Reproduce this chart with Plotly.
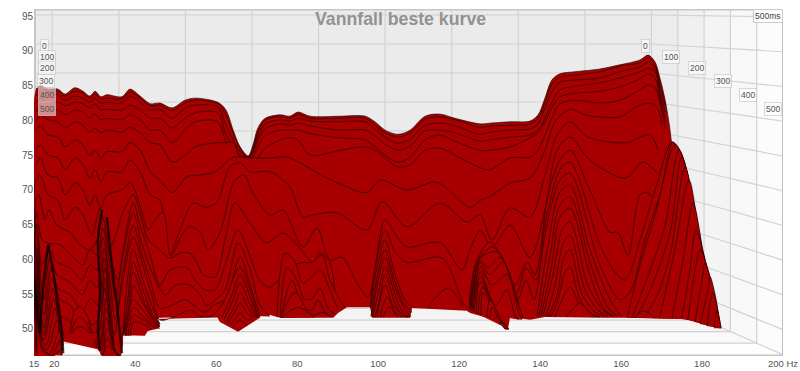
import plotly.graph_objects as go

N = None
TITLE = "Vannfall beste kurve"
Y_TICKS = [50, 55, 60, 65, 70, 75, 80, 85, 90, 95]
X_TICKS = [15, 20, 40, 60, 80, 100, 120, 140, 160, 180, 200]
X_TICK_TEXT = ["15", "20", "40", "60", "80", "100", "120", "140", "160", "180", "200 Hz"]
TIME_LABELS = ["0", "100", "200", "300", "400", "500"]

BASE_HZ = [15, 15, 20.2, 20.2, 26.4, 28.8, 29.6, 29.6, 30.3, 31.8, 36.5, 37, 37, 42.4, 43.2, 46.1, 44.9, 47.4, 51.8, 56, 60.2, 60.9, 65.4, 70.8, 70.8, 73.3, 75.8, 88.9, 90.1, 92.3, 98, 98.5, 107.9, 108.4, 121.9, 122.7, 126.9, 130.1, 132.1, 132.6, 137.5, 141.2, 156, 174.6, 178.3, 184.4, 181.2]
BASE_DB = [53.4, 46.1, 46.1, 49.1, 49.4, 49.3, 49.4, 48, 47.5, 46.1, 46.1, 47.7, 49.1, 49, 49.8, 50.3, 51.6, 51.7, 52, 52.1, 51.8, 51, 49.6, 51.6, 52, 52, 51.6, 51.6, 52.3, 53.1, 53.1, 51.6, 51.6, 53, 52.6, 52.3, 51.6, 50.8, 50.1, 51.7, 51.3, 51.7, 51.6, 51.6, 51, 50.1, 53.4]

TOP_HZ = [15.5, 16.5, 18.5, 20.9, 22.7, 25.1, 27.1, 28.8, 30.1, 31.5, 33, 36.7, 38.7, 41.2, 43.7, 46.1, 49.1, 52.3, 54.8, 60.4, 62.4, 64.2, 65.9, 67.9, 69.1, 70.3, 72.1, 75.8, 78.2, 80.2, 83.2, 90.6, 96.8, 99.2, 101.7, 104.9, 107.9, 111.6, 115.3, 119, 125.2, 127.6, 132.6, 137.5, 139.5, 141.2, 142.9, 144.9, 148.6, 154.8, 159.7, 164.7, 166.7, 168.4, 169.6, 170.9, 172.1, 173.4]
S00_DB = [84.5, 85, 84.5, 84.5, 83.8, 84.7, 84.2, 83.5, 84.2, 83.4, 83.7, 83.4, 84.5, 83.5, 82.4, 82.5, 81.8, 82.9, 83.2, 82.6, 81.5, 78.6, 76.2, 74.9, 76.5, 78.9, 80.3, 80.8, 80.6, 81.2, 80.6, 80.6, 80.6, 79.8, 78.6, 78, 78.6, 80.6, 80.9, 80.3, 79.5, 79.6, 79.8, 79.9, 80.8, 83.2, 85.8, 86.7, 87, 87.4, 88, 88.7, 89.4, 88.4, 86.1, 82.9, 78.6, 71.4]
S01_DB = [84.1, 84.7, 84.2, 84.2, 83.5, 84.2, 83.9, 83.2, 83.8, 83.1, 83.2, 83.1, 84.1, 83.2, 82.1, 82.2, 81.4, 82.5, 82.9, 82.4, 80.8, 78.2, 76, 74.7, 76, 78.3, 80.1, 80.5, 80.3, 80.9, 80.3, 80.3, 80.3, 79.3, 78.2, 77.6, 78.2, 80.2, 80.5, 80.1, 79, 79.2, 79.3, 79.5, 80.3, 82.6, 85.2, 86.2, 86.5, 87, 87.8, 88.3, 89, 88, 85.4, 82.2, 77.9, 70.7]
S02_DB = [83.5, 84.1, 83.7, 83.7, 82.9, 83.5, 83.2, 82.6, 83.2, 82.5, 82.6, 82.5, 83.5, 82.6, 81.5, 81.6, 80.3, 81.8, 82.2, 81.9, 79.3, 77.2, 75.5, 74.6, 75.7, 77.8, 79.5, 80.1, 79.9, 80.3, 79.9, 79.8, 79.8, 78.8, 77.6, 76.7, 77.3, 79.3, 79.6, 79.2, 78, 78.3, 78.6, 78.8, 79.5, 81.8, 84.1, 85.5, 85.8, 86.1, 87, 87.7, 88.4, 87.5, 84.4, 81.2, 77.2, 70]
S03_DB = [82.5, 83.2, 82.6, 82.6, 82.1, 82.6, 82.4, 81.8, 82.4, 81.5, 81.6, 81.5, 82.2, 81.5, 80.3, 80.3, 78.9, 80.3, 81.1, 81.1, 77.9, 76.3, 75, 74.4, 75.3, 77.2, 78.8, 79.5, 79.3, 79.6, 79.2, 78.6, 78.6, 77.8, 76.6, 75.7, 76.3, 78.5, 78.6, 78.2, 77, 77.2, 77.6, 77.9, 78.6, 80.3, 82.6, 84.4, 84.9, 85.4, 86.1, 87, 87.5, 87, 83.7, 80.3, 76.5, 69.3]
S04_DB = [81.2, 82.1, 81.5, 81.5, 80.8, 81.5, 81.2, 80.3, 80.9, 80.1, 80.3, 80.1, 80.8, 80.1, 78.6, 78.6, 76.8, 78.6, 79.8, 79.8, 76.9, 75.5, 74.3, 74.2, 74.7, 76.3, 77.8, 78.6, 78.6, 78.6, 78.1, 77.5, 77.2, 76.2, 75, 74, 74.7, 77.2, 77.9, 77, 75.7, 75.7, 76.2, 77.5, 78.3, 79.8, 81.8, 83.4, 83.9, 84.2, 84.8, 86, 86.7, 86.1, 82.9, 79.8, 75.7, 68.6]
S05_DB = [79.8, 80.8, 80.1, 79.8, 78.9, 79.8, 79.3, 78.3, 78.9, 78.2, 78.6, 78.3, 79, 78.2, 76.8, 76.5, 74, 75, 76.2, 76.8, 76.8, 76.8, 74.7, 73.9, 74, 74.6, 76, 77.2, 77.5, 77.2, 75, 75.7, 76.2, 75.7, 74.6, 73.3, 73.6, 75.7, 76, 75, 73.2, 72.9, 74.6, 74.7, 75.7, 77.9, 80.3, 82.4, 82.9, 82.5, 82.9, 84.4, 85.1, 84.7, 82.6, 78.9, 75, 67.8]

S06_HZ = [15.5, 16.5, 18.5, 20.9, 22.7, 25.1, 27.1, 28.8, 30.1, 31.5, 33, 36.7, 38.7, 41.2, 43.7, 46.1, 49.1, 52.8, 55.3, 59.7, 64.2, 68.4, 73.3, 77.5, 87.4, 91.3, 97.2, 100.5, 107.1, 114.5, 122.7, 125.2, 127.6, 132.6, 137.5, 141.2, 143.7, 147.4, 151.1, 154.8, 159.7, 163.4, 166.7, 168.9, 170.1, 171.3, 172.6]
S06_DB = [78.6, 79.3, 77.9, 77.6, 76.2, 77.2, 76.5, 75, 75.7, 74.6, 75.5, 75.5, 76.8, 75.7, 72.6, 71.4, 69.6, 71.9, 72.1, 72.6, 74.7, 74.6, 74.6, 74.7, 71.7, 70.7, 69.6, 71.4, 70, 71.1, 67.5, 68.5, 69, 71, 71.7, 75.7, 79.8, 81.6, 80.8, 80.5, 80.5, 81.8, 82.5, 81.9, 79.3, 75, 68.5]
S07_HZ = [15.5, 16.5, 18.5, 20.9, 22.7, 25.1, 27.1, 28.8, 30.1, 31.5, 33, 36.7, 38.7, 41.2, 43.7, 46.1, 48.6, 51, 54.3, 57.7, 60.2, 63.4, 65.9, 68.4, 73.3, 78.2, 81.4, 83.9, 89.8, 97.2, 101, 107.1, 115.3, 121.9, 125.2, 128.1, 132.6, 137.5, 141.2, 144.2, 147.4, 151.8, 161.5, 164.7, 167.2, 169.1, 170.6, 172.1]
S07_DB = [75.7, 76.5, 75, 74.6, 72.9, 74.6, 73.6, 71.7, 72.9, 71.1, 72.6, 72.6, 74.3, 72.6, 69.3, 68.5, 60.6, 64.2, 68.1, 67.5, 68.3, 73.3, 73.9, 72.6, 72.6, 70.4, 66.1, 66.4, 66.7, 64.2, 68.3, 64.7, 68.1, 65.4, 66.4, 62.8, 67.4, 66.1, 72.1, 77.9, 79.8, 77.6, 76.8, 77.6, 77.9, 75.7, 72.1, 66.4]
S08_HZ = [15.5, 16.5, 18.5, 20.9, 22.7, 25.1, 27.1, 28.8, 30.1, 31.5, 33, 36.7, 38.7, 41.2, 43.2, 44.9, 46.9, 48.8, 51.8, 53.5, 56, 58, 60.9, 64.6, 67.1, 68.4, 73.3, 76.5, 81.4, 84.9, 88.1, 91.1, 94.8, 97.5, 101.7, 104.7, 107.1, 115.3, 120.7, 122.7, 125.2, 128.1, 132.6, 137.5, 141.2, 144.2, 147.4, 152.3, 161, 165.4, 168.9, 170.1, 171.6]
S08_DB = [73.6, 74.6, 72.1, 71.7, 69.3, 71, 70, 67.8, 69.3, 67.4, 69.3, 70, 71.1, 67.8, 64.2, 65.7, 66.8, 60.5, 63.8, 64.7, 63.9, 61.4, 63.8, 71.4, 72.1, 70.3, 66.4, 67.1, 61.8, 64.5, 59.9, 60.3, 56.6, 54.6, 65.7, 63.2, 61.8, 62.4, 58.5, 61.4, 64.2, 61.8, 64.9, 60.3, 67.1, 75.7, 77.6, 74.3, 71.7, 74, 72.4, 70.7, 64.9]

S09_HZ = [15, 15.5, 16.5, 18.5, 20.9, 22.7, 25.1, 27.1, 29.3, 31.3, 33.3, 35, 36.7, 39.5, 41.2, 43.2, 45.6, 48.6, 51, 53.5, 55.3, 56.7, 59.7, 62.2, 64.6, 68.4, 72.5, 76.5, 80.7, 83.9, 85.6, 88.1, 90.1, 91.8, N, 98, 99.5, 101.7, 104.2, 107.1, 115.8, 121, 122.2, N, 122.4, 124.2, 127.6, 131.3, 133.8, 136.8, 138.7, 142, 144.9, 147.4, 152.3, 157.3, 159.2, 161.7, 164.7, 166.4, 168.4, 170.9, 172.6, 174]
S09_DB = [53.4, 71.4, 72.1, 69.3, 68.5, 65.7, 67.5, 66.4, 63.5, 67.4, 61.4, 63.1, 66.4, 69.3, 66.7, 62.8, 61.6, 60.2, 60.9, 60.9, 59.5, 57.8, 57.5, 62.8, 68.1, 65.2, 62.4, 63.8, 61.6, 59.6, 61, 59.5, 53.7, 53.1, N, 53.1, 59.6, 64.2, 61.1, 59.6, 60.2, 53.7, 53, N, 53.4, 59.6, 62.5, 59.6, 56.3, 59.6, 57.8, 69.3, 74.3, 75.7, 70, 63.9, 63.9, 60.6, 69.3, 69.6, 68.5, 64.2, 57.8, 53.4]
S10_HZ = [15.2, 15.5, 16.2, 17.7, 18.7, 20.7, 23.9, 26.4, 28.8, 30.6, 32, 33.8, 35.7, 37, 39.5, 41.2, 43.7, 46.1, 48.6, 52.8, 54.8, 57.2, 59.7, 62.2, 65.4, 70.8, 73.3, 77.5, 80.7, 83.7, 86.1, 88.1, 90.6, 91.8, N, 98.2, 99.7, 101.7, 104.2, 106.6, 108.4, N, 112.3, 117.3, 121, N, 122.7, 124.4, 128.4, 131.3, 134.3, 136.5, 139, 141.2, 144.9, 147.4, 154.8, 158.5, 161, 164.7, 168.4, 172.6, 174.6, 177, 178.8, 180.2, 181.2]
S10_DB = [54.2, 68.5, 69.3, 65.7, 67.1, 64.9, 63.9, 62.1, 61.4, 62.8, 66, 60.6, 57, 61.4, 68.1, 64.9, 60.6, 56.3, 58.5, 58.8, 57, 55.6, 55.6, 59.2, 64.2, 57, 56, 58.5, 59.5, 59.6, 60.6, 57, 54.2, 53.1, N, 53.1, 58.8, 62.8, 57.8, 54.2, 53.1, N, 53.1, 55.9, 53.1, N, 53, 59.6, 61.8, 58.8, 55.2, 58.8, 57, 64.9, 72.9, 74, 62.1, 58.2, 57, 62.8, 70, 76.9, 75.7, 70.7, 62.8, 57, 51.8]
S11_HZ = [15.2, 15.7, 17, 18.7, 21.4, 24.6, 27.1, 28.8, 30.6, 32, 33.8, 35.2, 36.7, 39.5, 41.4, 43.7, 47.4, 49.8, 53.5, 56, 57.7, 59.7, 62.2, 65.4, 68.4, 70.8, 73.3, N, 75, 77, 79.5, 81.4, 83.2, 85.6, 88.1, 90.1, N, 98.2, 99.9, 101.7, 104.2, 106.6, 108.4, N, 122.7, 124.2, 125.2, 129.4, 132.1, 134.5, 136.5, 138.5, 141.2, 144.9, 147.4, 154.8, 159.7, 162.2, 165.9, 169.6, 172.8, 174.6, 176.5, 178.3, 180, 181]
S11_DB = [52.7, 66.8, 62.8, 62.3, 62.1, 60.3, 59.2, 61.4, 60.6, 64.5, 59.2, 54.2, 59.6, 66.7, 62.8, 58.8, 54.9, 56.3, 56.3, 54.9, 53.4, 54.2, 55.6, 62.3, 58.5, 53.4, 51.8, N, 51.7, 60.9, 59.6, 56.6, 57.3, 58.5, 55.6, 52.7, N, 51.8, 57.8, 61.4, 56.7, 53.4, 52.4, N, 52.8, 58.5, 60.2, 61.1, 58.2, 54.2, 57, 54.2, 63.5, 71.4, 72.4, 59.2, 54.2, 55.3, 62.8, 69.3, 76.9, 75, 70.7, 64.9, 59.9, 51.6]
S12_HZ = [15.2, 15.7, 17, 18.7, 20.7, 23.9, 26.9, 28.8, 30.6, 32, 33.8, 35, 37, 39.5, 41.7, 43.7, 46.1, 49.1, 52.3, 55.3, 57.2, 59.2, 62.2, 65.9, 68.4, 70.8, N, 75.8, 77.5, 79.9, 81.9, 83.7, 85.6, 87.6, 89.3, N, 98.5, 99.9, 101.7, 104.2, 106.4, 108.1, N, 122.7, 125.2, 127.1, 130.1, 133.8, 135, N, 139.2, 142, 144.9, 147.4, 152.3, 157.3, 160, N, 161.5, 164.7, 168.4, 173.4, 175.8, 177.5, 179.5, 181.2, 181.7]
S12_DB = [51.6, 65.1, 59.2, 61.4, 59.6, 58.8, 57, 59.2, 58.5, 63.1, 57, 51.3, 58.2, 64.9, 60.6, 57, 53, 53.4, 54.2, 53, 52.4, 53.4, 54.2, 60.3, 56.3, 51.7, N, 51.7, 58.8, 57, 54.2, 54.4, 55.9, 53, 52.1, N, 51.8, 56.7, 60.2, 55.9, 53, 51.8, N, 52.8, 59.8, 58.8, 60.3, 55.6, 52.4, N, 51.8, 62.1, 69.7, 70.7, 61.4, 54.2, 51.8, N, 51.6, 59.2, 66.4, 76.5, 73.6, 69.3, 63.5, 55.6, 51.3]
S13_HZ = [15.2, 16, 16.7, 17.5, 18.9, 20.7, 23.9, 26.9, 28.8, 30.6, 32.3, 33.8, 34.8, 36.8, 39.5, 41.9, 44.1, 46.1, 49.8, 53.5, 56, 58.5, 61.4, 65.9, 68.4, 70.3, N, 76, 78.7, 81.4, 83.7, 85.1, 86.9, 88.9, N, 98.7, 100.2, 101.7, 104.2, 106.1, 107.9, N, 122.9, 125.2, 127.6, 130.8, 133.8, 135.8, N, 139.7, 142.5, 144.9, 147.4, 152.3, 156.8, 159.2, N, 162.7, 167.2, 170.9, 174.3, 177, 179.5, 181.5, 182.5]
S13_DB = [51, 63.4, 57, 54.2, 60.2, 57.8, 56.7, 54.9, 57, 55.9, 61.6, 54.9, 49.1, 56.3, 63.2, 59.2, 54.9, 51.3, 51.8, 52.7, 51.8, 51.8, 53.4, 58.9, 55.6, 51.8, N, 51.6, 57, 53.1, 52.7, 54.2, 52.4, 51.8, N, 51.7, 55.6, 58.9, 54.9, 52.4, 51.7, N, 52.7, 59.5, 57.8, 59.6, 54.9, 51.6, N, 51.8, 60.6, 67.8, 69, 59.6, 53, 51.8, N, 51.6, 58.5, 64.9, 75.7, 71, 62.1, 56.3, 51.6]
S14_HZ = [15.5, 16, 16.7, 17.5, 19.2, 20.9, 23.9, 26.9, 29.1, 30.8, 32.3, 33.8, 34.8, N, 37, 37.7, 39.5, 41.9, 44.1, 46.1, N, 61.4, 63.9, 65.9, 68.4, 70.3, N, 76, 79.5, 83.2, 84.7, 86.1, 88.1, N, 99.2, 100.5, 101.7, 103.9, 105.9, 107.4, N, 123.2, 125.2, 128.1, 131.8, 134.5, 135.5, N, 140.2, 142.9, 144.9, 147.4, 152.3, 156, 158.5, N, 163.7, 167.2, 172.1, 175, 177.5, 180, 182.5, 183]
S14_DB = [50.6, 61.6, 54.2, 52, 58.8, 55.9, 54.9, 52.7, 54.4, 53.4, 60.2, 52.7, 47.7, N, 49.1, 54.9, 61.4, 57, 53.4, 50.7, N, 51.6, 54.9, 57.8, 54.6, 51.7, N, 51.6, 55.3, 52, 52.1, 52.4, 51.8, N, 51.7, 54.6, 57.8, 54.2, 52, 51.7, N, 52.6, 58.9, 56.3, 57.8, 52.7, 51.3, N, 51.8, 59.2, 66, 67.4, 57.8, 52.7, 51.8, N, 51.6, 55.6, 63.9, 74.7, 69.3, 61.4, 54.2, 51.3]
S15_HZ = [15.5, 16, 16.7, 17.5, 19.4, 21.4, 23.9, 25.9, 27.1, 28.3, 29.3, 30.8, 32.5, 34, 34.8, N, 37, 38, 39.5, 41.9, 44.4, 46.1, N, 61.9, 64.2, 65.9, 68.1, 70.1, N, 76.3, 80.2, 84.4, N, 99.7, 101.7, 103.7, 106.6, N, 123.4, 125.2, 128.9, 131.8, 133.8, 134.8, N, 140.7, 143.2, 145.4, 147.4, 151.8, 155.5, 157.8, N, 165.4, 168.4, 172.1, 175.8, 178.3, 180.7, 183.2]
S15_DB = [49.8, 60.2, 52, 50.1, 57.3, 54.2, 53.4, 51.6, 52.7, 51.6, 50.6, 51.3, 58.8, 50.6, 47, N, 49.1, 53.4, 59.6, 55.6, 52, 50.6, N, 51.3, 54.2, 56.6, 53.9, 51.6, N, 51.6, 53.1, 51.6, N, 51.7, 56.3, 53.4, 51.7, N, 52.6, 58.2, 53.4, 55.6, 52, 51.3, N, 51.8, 57.8, 64.2, 65.4, 56.3, 52.7, 51.8, N, 51.6, 54.2, 60.6, 73.3, 66.4, 59.2, 51.3]
S16_HZ = [15.5, 16, 16.7, 17.5, 19.7, 21.4, 23.4, 25.4, 27.1, 28.3, 29.3, 31, 32.5, 34, 35, N, 37, 38.2, 39.5, 41.9, 44.6, 46.1, N, 62.4, 64.4, 65.9, 67.9, 69.8, N, 100.5, 102.2, 104.2, 105.9, N, 123.7, 125.2, 129.6, 131.6, N, 141.5, 143.7, 145.7, 147.4, 151.1, 154.3, 156.8, N, 169.6, 173.3, 176.8, 179.5, 182.5, 183.7]
S16_DB = [49.1, 58.8, 50.6, 49.1, 55.9, 52, 51.3, 50.1, 50.6, 49.8, 49.4, 49.8, 57.3, 49.1, 46.5, N, 49.1, 52.4, 58.2, 54.4, 51.3, 50.4, N, 51, 53.1, 55.2, 53, 51.6, N, 51.7, 54.6, 52.4, 51.7, N, 52.4, 57.5, 51.7, 50.6, N, 51.8, 56.3, 62.3, 63.5, 55.6, 52.7, 51.8, N, 51.8, 61.4, 71.4, 62.8, 55.6, 51]
S17_HZ = [15.5, 16, 16.7, 17.5, 19.9, 21.4, 22.4, N, 23.9, 25.1, 26.4, 28.1, 29.3, N, 29.6, 31, 32.5, 33.9, 35, N, 36.8, 38.5, 39.5, 41.9, 44.9, 46.1, N, 62.9, 64.6, 65.9, 67.6, 69.3, N, 101.2, 102.7, 104.7, N, 124.2, 125.2, 130.1, 131.8, N, 142, 144.2, 145.9, 147.4, 150.4, 153.6, 155.8, N, 172.6, 175.3, 177.8, 180.2, 182.5, 183.9]
S17_DB = [48.1, 57.5, 49.4, 48.4, 54.4, 51, 49.1, N, 49.4, 52.7, 53.2, 52, 49.4, N, 48, 49.1, 55.9, 48.4, 46.4, N, 49, 51.6, 56.3, 53.7, 51, 50.3, N, 50.8, 52.4, 53.7, 52.3, 51.6, N, 51.7, 53.1, 51.7, N, 52.3, 56.8, 51.3, 50.3, N, 51.8, 54.9, 60.3, 61.4, 54.9, 52.4, 51.8, N, 51.6, 59.9, 68.1, 61.4, 55.6, 50.7]
S18_HZ = [15.5, 16, 16.7, 18, 20.2, 21.4, 22.2, N, 24.1, 25.4, 26.4, 27.8, 29.1, N, 29.8, 31.3, 32.8, 34.5, 35.5, N, 37.5, 39.5, 41.9, 44.9, 46.1, N, 63.4, 64.9, 65.9, 67.4, 68.8, N, 124.7, 125.7, 130.3, 131.8, N, 142.7, 144.4, 146.2, 147.4, 149.9, 152.8, 154.8, N, 175, 177, 178.5, 181, 183.2, 184.2]
S18_DB = [47.7, 56.3, 48.8, 47.7, 53, 49.8, 47.7, N, 49.4, 51.3, 51.7, 51, 49.3, N, 47.8, 48.4, 54.4, 47.7, 46.2, N, 49, 54.2, 52.7, 50.7, 50.3, N, 50.6, 51.6, 52.3, 51.3, 51.4, N, 52.1, 56, 51, 50.1, N, 51.8, 54.2, 58.2, 58.9, 54.2, 52.1, 51.7, N, 51.6, 58.5, 64.2, 59.2, 53.4, 50.4]
S19_HZ = [15.5, 16, 16.7, 18.2, 20.7, 21.4, 22.2, N, 24.4, 25.4, 26.4, 27.6, 28.8, N, 30.1, 31.3, 32.8, 34.8, 35.7, N, 37.7, 39.5, 41.9, 44.9, 46.1, N, 64.2, 65.9, 67.6, N, 125.4, 125.9, 130.8, 132.1, N, 143.7, 145.4, 147.4, 149.4, 151.3, 153.1, N, 176.5, 178.3, 179.5, 181.5, 183.7, 184.4]
S19_DB = [47.2, 55.3, 48.4, 47, 51.3, 48.7, 47, N, 49.4, 50.1, 50.3, 50.1, 49.3, N, 47.7, 47.8, 53, 47.2, 46.2, N, 49, 53.1, 51.8, 50.4, 50.1, N, 50.3, 51.3, 50.4, N, 52, 55.2, 50.6, 50.1, N, 51.7, 54.2, 56, 53.9, 52.1, 51.7, N, 51.3, 58.5, 61.4, 58.5, 52.7, 50.3]
S20_HZ = [15.5, 16, 16.7, 18.9, 21.2, 21.9, N, 30.3, 31.5, 32.8, 35, 36, N, 38.2, 39.5, 41.9, 44.9, N, 126.9, 127.6, 131.3, 132.1, N, 146.4, 148.4, 149.9, 151.6, 153.8, N, 178.3, 180.2, 180.7, 182.5, 184, 184.4]
S20_DB = [46.7, 54.4, 47.7, 46.4, 49.8, 46.4, N, 47.5, 47.4, 51.6, 46.8, 46.2, N, 49, 52, 51.3, 50.1, N, 51.7, 54.2, 50.3, 50, N, 51.7, 53, 53.7, 52.7, 51.7, N, 51, 57.8, 59.5, 56.3, 52, 50.1]
S21_HZ = [15.7, 16, 17, 19.4, 21.4, 21.9, N, 30.8, 31.8, 33, 35.2, 36.2, N, 38.7, 39.7, 42.4, 44.1, N, 127.6, 128.1, 131.3, 132.3, N, 163.4, 165.4, 168.4, N, 179.5, 181.5, 182, 183.5, 184.4]
S21_DB = [46.4, 53.4, 47, 46.2, 48.4, 46.2, N, 47, 47, 50.1, 46.5, 46.2, N, 49, 51, 50.6, 49.9, N, 51.6, 53.1, 50, 50, N, 51.6, 52.6, 51.6, N, 50.7, 55.6, 57.5, 54.2, 50.1]
S22_HZ = [19.9, 21.7, 21.9, N, 31.3, 32, 33, 35.5, 36.2, N, 128.4, 129.4, 131.3, 132.3, N, 181.2, 182.7, 184, 184.7]
S22_DB = [46.2, 47, 46.2, N, 46.4, 46.4, 48.7, 46.2, 46.1, N, 51.3, 51.7, 50.1, 50, N, 50.4, 55.2, 52.4, 50.1]
S23_HZ = [31.8, 33.3, 35.7, N, 129.8, 130.8, 132.3, N, 183, 183.7, 184.7]
S23_DB = [46.1, 47.5, 46.1, N, 50.8, 50.8, 50, N, 50.1, 52.7, 50.1]

# Dense, nearly black bundles of lines along the steepest low-frequency ridges
RIDGE_HZ = [31.8, 30.8, 31.3, 30.8, 31.3, N, 33, 34.3, 35.5, 36.7, N, 18.5, 20.2, 21.9, 22.2, N, 18.5, 17.2, 16.5, N, 15, 15.7, 16.5]
RIDGE_DB = [67.1, 62.8, 55.6, 49.8, 47, N, 66.1, 58.9, 53.2, 46.5, N, 62.1, 56.6, 49.4, 46.5, N, 62.1, 55.6, 49.4, N, 57.3, 52.8, 49.4]

FILL = "#a80000"
LINE = "rgba(30,0,0,0.72)"
RIDGE = "rgba(15,0,0,0.8)"
GRID = "#d2d2d2"
X0, X1 = 15.0, 200.0
Y0, Y1 = 46.1, 96.03


def wall_point(f, db, frac):
    """Map a wall position (Hz, dB, depth 0 back..1 front) onto the front-plane axes."""
    bx = 35.6 + 3.33 * (f - 15)
    fx = 34 + 4.05 * (f - 15)
    by = 15 + (95 - db) * 5.8
    fy = 17 + (95 - db) * 6.95
    return (15 + ((bx + (fx - bx) * frac) - 34) / 4.05,
            46.1 + (356 - (by + (fy - by) * frac)) / 6.95)


def path(points, close=True):
    s = "M" + " L".join(f"{x:.3f},{y:.3f}" for x, y in points)
    return s + (" Z" if close else "")


shapes = []


def poly(points, fill):
    shapes.append(dict(type="path", xref="x", yref="y", path=path(points), fillcolor=fill,
                       line=dict(width=0), layer="below"))


def stroke(points, color=GRID, width=1.2):
    shapes.append(dict(type="path", xref="x", yref="y", path=path(points, False),
                       line=dict(color=color, width=width), layer="below"))


FLOOR_DB = 46.4
TOP_DB = 96.03
poly([wall_point(15, FLOOR_DB, 0), wall_point(200, FLOOR_DB, 0), wall_point(200, TOP_DB, 0), wall_point(15, TOP_DB, 0)], "#ebebeb")
WALL_SHADES = ["#ececec", "#f0f0f0", "#f4f4f4", "#f8f8f8", "#fcfcfc"]
FLOOR_SHADES = ["#f1f1f1", "#f3f3f3", "#f5f5f5", "#f9f9f9", "#fdfdfd"]
for i in range(5):
    a, b = i / 5, (i + 1) / 5
    poly([wall_point(200, FLOOR_DB, a), wall_point(200, FLOOR_DB, b), (wall_point(200, 0, b)[0], Y1), (wall_point(200, 0, a)[0], Y1)], WALL_SHADES[i])
    poly([wall_point(15, FLOOR_DB, a), wall_point(200, FLOOR_DB, a), wall_point(200, FLOOR_DB, b), wall_point(15, FLOOR_DB, b)], FLOOR_SHADES[i])
for f in range(20, 201, 20):
    stroke([wall_point(f, FLOOR_DB, 0), (wall_point(f, 0, 0)[0], Y1)])
for db in Y_TICKS:
    stroke([wall_point(15, db, 0), wall_point(200, db, 0), wall_point(200, db, 1)])
for i in range(1, 5):
    a = i / 5
    stroke([wall_point(15, FLOOR_DB, a), wall_point(200, FLOOR_DB, a), (wall_point(200, 0, a)[0], Y1)])
stroke([wall_point(200, FLOOR_DB, 0), wall_point(200, FLOOR_DB, 1)])
stroke([(X0, Y0), (X0, Y1)], "#c6c6c6", 4)
stroke([(X0, Y1), (X1, Y1)], "#c6c6c6", 3)
stroke([(X0, Y0), (X1, Y0)], "#c6c6c6", 3)
stroke([(X1, Y0), (X1, Y1)], "#c0c0c0", 2)

SLICES = [
    (TOP_HZ, S00_DB), (TOP_HZ, S01_DB), (TOP_HZ, S02_DB), (TOP_HZ, S03_DB), (TOP_HZ, S04_DB), (TOP_HZ, S05_DB),
    (S06_HZ, S06_DB), (S07_HZ, S07_DB), (S08_HZ, S08_DB),
    (S09_HZ, S09_DB), (S10_HZ, S10_DB), (S11_HZ, S11_DB), (S12_HZ, S12_DB), (S13_HZ, S13_DB), (S14_HZ, S14_DB),
    (S15_HZ, S15_DB), (S16_HZ, S16_DB), (S17_HZ, S17_DB), (S18_HZ, S18_DB), (S19_HZ, S19_DB), (S20_HZ, S20_DB),
    (S21_HZ, S21_DB), (S22_HZ, S22_DB), (S23_HZ, S23_DB),
]

fig = go.Figure()
fig.add_trace(go.Scatter(x=BASE_HZ, y=BASE_DB, mode="lines", fill="toself", fillcolor=FILL,
                         line=dict(width=0, color=FILL), hoverinfo="skip", showlegend=False))
for k, (hz, db) in enumerate(SLICES):
    if k < 9:  # full-width slices: fill down to a foot level, but stop the outline at the right edge
        fill_hz = [15] + list(hz) + [hz[-1] + 1.5]
        fill_db = [53.4] + list(db) + [53.4]
        line_hz = hz if k == 0 else hz[:-2]
        line_db = db if k == 0 else db[:-2]
    else:
        fill_hz, fill_db, line_hz, line_db = hz, db, hz, db
    fig.add_trace(go.Scatter(x=fill_hz, y=fill_db, mode="lines", fill="toself", fillcolor=FILL,
                             line=dict(color="rgba(0,0,0,0)", width=0, shape="spline", smoothing=0.9),
                             hoverinfo="skip", showlegend=False))
    fig.add_trace(go.Scatter(x=line_hz, y=line_db, mode="lines",
                             line=dict(color=LINE, width=0.9, shape="spline", smoothing=0.9),
                             hoverinfo="skip", showlegend=False))
fig.add_trace(go.Scatter(x=RIDGE_HZ, y=RIDGE_DB, mode="lines", line=dict(color=RIDGE, width=2.4, shape="spline"),
                         hoverinfo="skip", showlegend=False))

LEFT_POS = [(17.5, 90.7), (18.1, 89.1), (18.1, 87.5), (17.9, 85.7), (18.1, 83.7), (18.1, 81.6)]
RIGHT_POS = [(166.0, 90.7), (172.3, 89.1), (178.8, 87.5), (185.2, 85.7), (191.4, 83.7), (197.5, 81.6)]
annotations = []
for (x, y), t in zip(LEFT_POS + RIGHT_POS, TIME_LABELS + TIME_LABELS):
    annotations.append(dict(x=x, y=y, xref="x", yref="y", text=t, showarrow=False,
                            font=dict(family="Liberation Sans", size=8.5, color="#555"),
                            bgcolor="rgba(255,255,255,0.55)", bordercolor="rgba(200,200,200,0.7)",
                            borderwidth=1, borderpad=1))
annotations.append(dict(x=196.3, y=95.0, xref="x", yref="y", text="500ms", showarrow=False,
                        font=dict(family="Liberation Sans", size=8.5, color="#444"),
                        bgcolor="rgba(255,255,255,0.85)", bordercolor="#cccccc", borderwidth=1, borderpad=1))
annotations.append(dict(xref="x", yref="y", x=14.6, y=96.6, xanchor="right", yanchor="middle",
                        text="dB", showarrow=False, font=dict(family="Liberation Sans", size=9.5, color="#555")))
annotations.append(dict(x=105.4, y=94.6, xref="x", yref="y", text=f"<b>{TITLE}</b>", showarrow=False,
                        font=dict(family="Liberation Sans", size=17.7, color="#929292")))

fig.update_layout(
    width=800, height=371, autosize=False,
    margin=dict(l=34, r=17, t=9, b=15),
    paper_bgcolor="white", plot_bgcolor="white",
    shapes=shapes, annotations=annotations, showlegend=False,
    xaxis=dict(range=[X0, X1], tickvals=X_TICKS, ticktext=X_TICK_TEXT, showgrid=False, zeroline=False,
               automargin=False, ticks="", showline=False, tickfont=dict(family="Liberation Sans", size=9.5, color="#555")),
    yaxis=dict(range=[Y0, Y1], tickvals=Y_TICKS, showgrid=False, zeroline=False,
               automargin=False, ticks="", showline=False, tickfont=dict(family="Liberation Sans", size=10, color="#555")),
)
fig.write_html("out.html", config={"displayModeBar": False},
               post_script="document.body.style.margin='0';document.body.style.overflow='hidden';")
